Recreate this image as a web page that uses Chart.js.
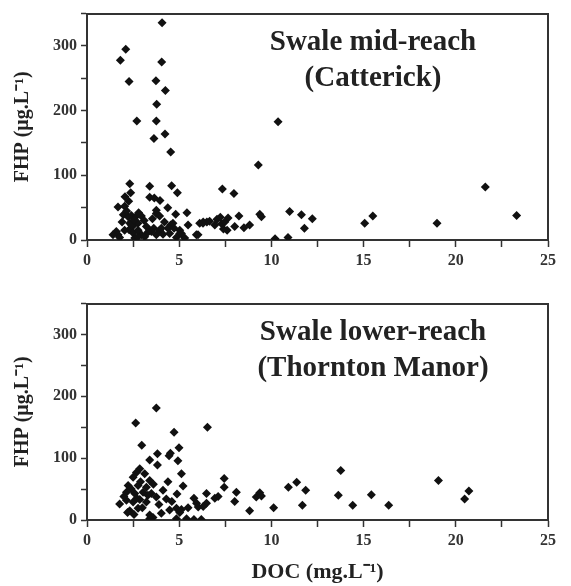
<!DOCTYPE html>
<html>
<head>
<meta charset="utf-8">
<script src="https://cdn.jsdelivr.net/npm/chart.js@4.4.1/dist/chart.umd.min.js"></script>
<style>
  body { margin: 0; background: #fff; }
  #wrap { position: relative; width: 571px; height: 586px; }
  canvas { position: absolute; left: 0; }
</style>
</head>
<body>
<div id="wrap">
  <canvas id="topChart" width="571" height="290" style="top:0"></canvas>
  <canvas id="bottomChart" width="571" height="296" style="top:290px"></canvas>
</div>
<script>
// Swale mid-reach (Catterick)
const midDoc = [4.07, 2.10, 1.81, 4.05, 2.28, 3.74, 4.25, 3.78, 2.70, 3.76, 4.23, 3.63, 4.54, 10.36, 9.29, 21.6,
  2.32, 3.40, 4.59, 4.90, 2.37, 2.06, 3.40, 3.65, 3.96, 2.26, 1.68, 2.04, 4.38, 3.76, 3.76, 1.97, 2.41, 2.23, 2.68, 2.95,
  3.94, 4.81, 5.42, 7.34, 7.97, 23.3, 10.99, 11.63, 12.22, 11.79, 9.37, 9.46, 8.24, 8.82, 8.51, 15.5, 15.06, 18.98,
  6.30, 6.65, 7.05, 7.23, 7.65, 7.30, 7.40, 7.60, 10.2, 10.9, 6.11, 6.50, 5.48, 4.54, 2.32, 2.50, 2.77, 3.22, 3.62, 2.28,
  3.94, 4.39, 4.72, 5.03, 1.59, 1.68, 1.41, 2.50, 2.95, 3.40, 3.76, 4.12, 4.48, 5.03, 5.30, 5.93, 2.59, 2.77, 3.13, 1.77,
  4.85, 2.04, 2.41, 2.77, 3.49, 4.03, 4.66, 5.12, 6.02, 6.29, 6.93, 7.47, 8.01, 2.15, 2.55, 1.90, 2.80, 3.10, 3.30, 3.55, 4.20];
const midFhp = [336, 295, 278, 275, 245, 246, 231, 210, 184, 184, 164, 157, 136, 183, 116, 82,
  87, 83, 84, 73, 73, 67, 66, 65, 61, 60, 51, 52, 50, 46, 41, 39, 38, 36, 37, 37,
  37, 40, 42, 79, 72, 38, 44, 39, 33, 18, 40, 36, 37, 23, 19, 37, 26, 26,
  28, 29, 32, 35, 34, 25, 17, 15, 2, 4, 26, 28, 23, 23, 26, 22, 26, 21, 18, 16,
  15, 18, 18, 15, 13, 8, 8, 11, 8, 15, 8, 9, 10, 10, 3, 8, 3, 5, 5, 4,
  4, 15, 23, 15, 13, 18, 26, 10, 8, 26, 23, 28, 21, 45, 31, 28, 42, 30, 12, 33, 28];

// Swale lower-reach (Thornton Manor)
const lowDoc = [3.76, 2.64, 6.53, 4.72, 2.97, 4.99, 3.82, 4.52, 4.45, 3.40, 4.93, 3.82, 2.86, 2.68, 3.13, 5.12,
  2.50, 3.40, 4.39, 2.23, 2.77, 3.22, 5.21, 4.12, 2.14, 2.59, 3.04, 3.49, 3.76, 4.88, 6.48, 1.77, 2.14, 2.50, 2.86, 3.22,
  4.30, 5.80, 5.94, 6.03, 5.48, 4.85, 5.12, 2.32, 2.77, 3.40, 3.58, 4.03, 4.48, 6.48, 13.76, 19.06, 7.44, 7.44, 6.30,
  6.93, 7.11, 8.10, 8.01, 9.18, 9.37, 9.46, 8.82, 10.12, 10.92, 11.37, 11.86, 11.68, 13.63, 14.41, 15.42, 16.36, 20.48,
  20.71, 6.20, 5.03, 4.85, 5.40, 5.80, 3.40, 2.55, 2.00, 2.40, 2.90, 3.30, 3.60, 2.70, 3.00, 3.90, 2.20, 4.60];
const lowFhp = [181, 157, 150, 142, 121, 117, 107, 108, 104, 97, 96, 89, 83, 77, 75, 75,
  69, 64, 62, 56, 56, 53, 55, 48, 45, 43, 45, 43, 37, 42, 43, 26, 32, 29, 33, 29,
  34, 35, 27, 21, 20, 19, 17, 15, 19, 8, 4, 11, 16, 27, 80, 64, 67, 53, 22,
  35, 38, 45, 30, 37, 44, 39, 15, 20, 53, 61, 48, 24, 40, 24, 41, 24, 34,
  47, 1, 12, 2, 2, 1, 2, 9, 38, 50, 62, 40, 58, 35, 20, 25, 12, 30];

const midLabel = ["Swale mid-reach", "(Catterick)"];
const lowLabel = ["Swale lower-reach", "(Thornton Manor)"];
const xTicks = [0, 5, 10, 15, 20, 25];
const yTicks = [0, 100, 200, 300];

const SERIF = "'Liberation Serif', 'Times New Roman', serif";
const AXIS_COLOR = "#333";

const panelLabel = {
    id: "panelLabel",
    afterDraw(chart, args, opts) {
        const { ctx, chartArea } = chart;
        ctx.save();
        ctx.font = "bold 29px " + SERIF;
        ctx.fillStyle = "#222";
        ctx.textAlign = "center";
        ctx.textBaseline = "middle";
        opts.lines.forEach((line, i) => {
            ctx.fillText(line, 373, chartArea.top + 29 + i * 36);
        });
        ctx.restore();
    },
};

function toPoints(xs, ys) {
    return xs.map((x, i) => ({ x: x, y: ys[i] }));
}

function makeScales(xAxisHeight, showXTitle) {
    return {
        x: {
            type: "linear",
            min: 0,
            max: 25,
            ticks: {
                stepSize: 2.5,
                autoSkip: false,
                maxRotation: 0,
                padding: 4,
                color: AXIS_COLOR,
                font: { family: SERIF, size: 16, weight: "bold" },
                callback: (v) => (xTicks.includes(v) ? v : ""),
            },
            grid: { drawOnChartArea: false, tickLength: 7, tickColor: AXIS_COLOR, tickWidth: 1.5 },
            border: { color: AXIS_COLOR, width: 2 },
            title: {
                display: showXTitle,
                text: "DOC (mg.L⁻¹)",
                color: "#222",
                font: { family: SERIF, size: 22, weight: "bold" },
                padding: { top: 0, bottom: 0 },
            },
            afterFit: (s) => { s.height = xAxisHeight; },
        },
        y: {
            type: "linear",
            min: 0,
            max: 350,
            ticks: {
                stepSize: 50,
                autoSkip: false,
                padding: 4,
                color: AXIS_COLOR,
                font: { family: SERIF, size: 16, weight: "bold" },
                callback: (v) => (yTicks.includes(v) ? v : ""),
            },
            grid: { drawOnChartArea: false, tickLength: 6, tickColor: AXIS_COLOR, tickWidth: 1.5 },
            border: { color: AXIS_COLOR, width: 2 },
            title: {
                display: true,
                text: "FHP (μg.L⁻¹)",
                color: "#222",
                font: { family: SERIF, size: 20, weight: "bold" },
                padding: { top: 11, bottom: 0 },
            },
            afterFit: (s) => { s.width = 87; },
        },
        // frame on the top and right sides
        xTop: {
            type: "linear", position: "top", min: 0, max: 25,
            ticks: { display: false },
            grid: { drawOnChartArea: false, drawTicks: false },
            border: { color: AXIS_COLOR, width: 2 },
            afterFit: (s) => { s.height = 0; },
        },
        yRight: {
            type: "linear", position: "right", min: 0, max: 350,
            ticks: { display: false },
            grid: { drawOnChartArea: false, drawTicks: false },
            border: { color: AXIS_COLOR, width: 2 },
            afterFit: (s) => { s.width = 0; },
        },
    };
}

function makeChart(canvasId, xs, ys, label, top, xAxisHeight, showXTitle) {
    return new Chart(document.getElementById(canvasId), {
        type: "scatter",
        data: {
            datasets: [
                {
                    data: toPoints(xs, ys),
                    pointStyle: "rectRot",
                    pointRadius: 4.5,
                    backgroundColor: "#111",
                    borderWidth: 0,
                },
            ],
        },
        options: {
            responsive: false,
            animation: false,
            layout: { padding: { left: 0, right: 23, top: top, bottom: 0 } },
            plugins: {
                legend: { display: false },
                tooltip: { enabled: false },
                panelLabel: { lines: label },
            },
            scales: makeScales(xAxisHeight, showXTitle),
        },
        plugins: [panelLabel],
    });
}

makeChart("topChart", midDoc, midFhp, midLabel, 12, 50, false);
makeChart("bottomChart", lowDoc, lowFhp, lowLabel, 11, 66, true);
</script>
</body>
</html>
